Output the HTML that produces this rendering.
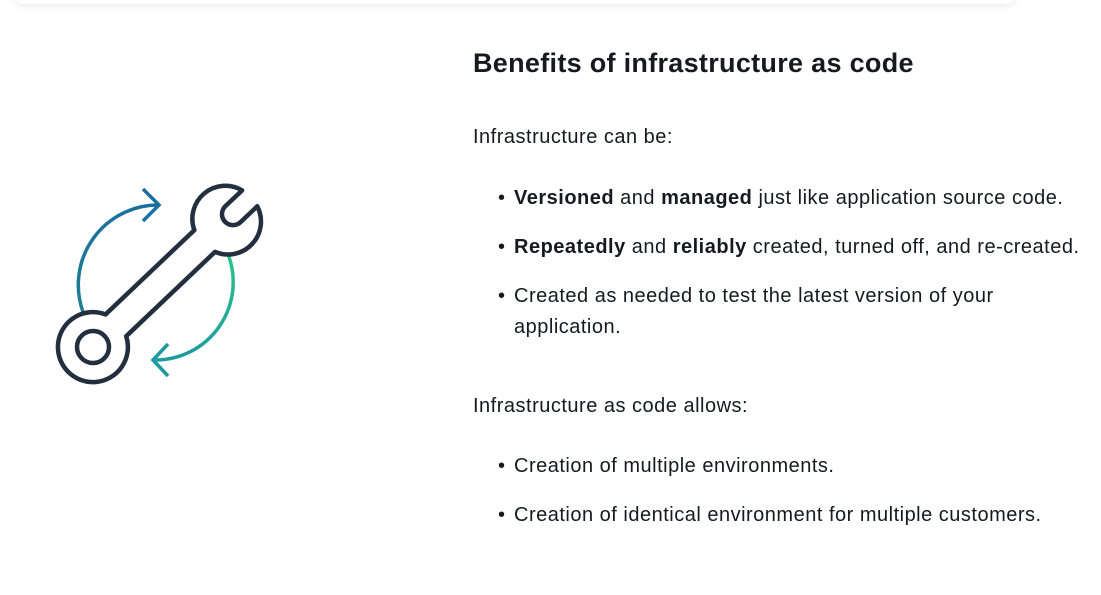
<!DOCTYPE html>
<html><head><meta charset="utf-8"><style>
body{margin:0;width:1101px;height:595px;background:#fff;position:relative;overflow:hidden;font-family:"Liberation Sans",sans-serif;color:#16191f}
.sh{position:absolute;left:15px;top:-20px;width:1000px;height:24px;border-radius:8px;box-shadow:0 2px 8px rgba(0,0,0,0.08);background:#fff}
.t{position:absolute;left:473px;white-space:nowrap;font-size:20px;letter-spacing:0.5px;line-height:31px}
.h{font-size:27px;font-weight:bold;letter-spacing:0.3px}
.b{position:absolute;left:498px;white-space:nowrap;font-size:20px;letter-spacing:0.5px;line-height:31px}
.b span.d{position:absolute;left:0}
.b span.x{position:absolute;left:16px}
</style></head><body>
<div class="sh"></div>
<svg width="300" height="420" style="position:absolute;left:0;top:0" viewBox="0 0 300 420">
<defs><linearGradient id="g" x1="0" y1="0" x2="0" y2="1"><stop offset="0" stop-color="#1a6fa0"/><stop offset="1" stop-color="#1f7f8f"/></linearGradient>
<linearGradient id="g2" x1="0" y1="0" x2="0" y2="1"><stop offset="0" stop-color="#2bc48a"/><stop offset="1" stop-color="#1c9aa0"/></linearGradient></defs>
<path d="M83,312 A80,80 0 0 1 158,205" fill="none" stroke="url(#g)" stroke-width="3.5"/>
<polyline points="143,189 159,205 143,221" fill="none" stroke="#1a6fa0" stroke-width="3.5"/>
<path d="M228,254 A78,78 0 0 1 156,360" fill="none" stroke="url(#g2)" stroke-width="3.5"/>
<polyline points="168,344 153,360 168,376" fill="none" stroke="#1c9aa0" stroke-width="3.5"/>
<g transform="translate(93,347) rotate(-43.5)" fill="#fff" stroke="#232f3e" stroke-width="4.5" stroke-linejoin="round">
<path d="M31.5,-15 L154,-15 A33,33 0 0 1 216,-11 L193,-11 A11,11 0 0 0 193,11 L216,11 A33,33 0 0 1 154,15 L31.5,15 A35,35 0 1 1 31.5,-15 Z"/>
<circle cx="0" cy="0" r="16"/>
</g>
</svg>
<div class="t h" style="top:48px">Benefits of infrastructure as code</div>
<div class="t" style="top:122px">Infrastructure can be:</div>
<div class="b" style="top:183px"><span class="d">•</span><span class="x"><b>Versioned</b> and <b>managed</b> just like application source code.</span></div>
<div class="b" style="top:232px"><span class="d">•</span><span class="x"><b>Repeatedly</b> and <b>reliably</b> created, turned off, and re-created.</span></div>
<div class="b" style="top:281px"><span class="d">•</span><span class="x">Created as needed to test the latest version of your<br>application.</span></div>
<div class="t" style="top:391px">Infrastructure as code allows:</div>
<div class="b" style="top:451px"><span class="d">•</span><span class="x">Creation of multiple environments.</span></div>
<div class="b" style="top:500px"><span class="d">•</span><span class="x">Creation of identical environment for multiple customers.</span></div>
</body></html>
